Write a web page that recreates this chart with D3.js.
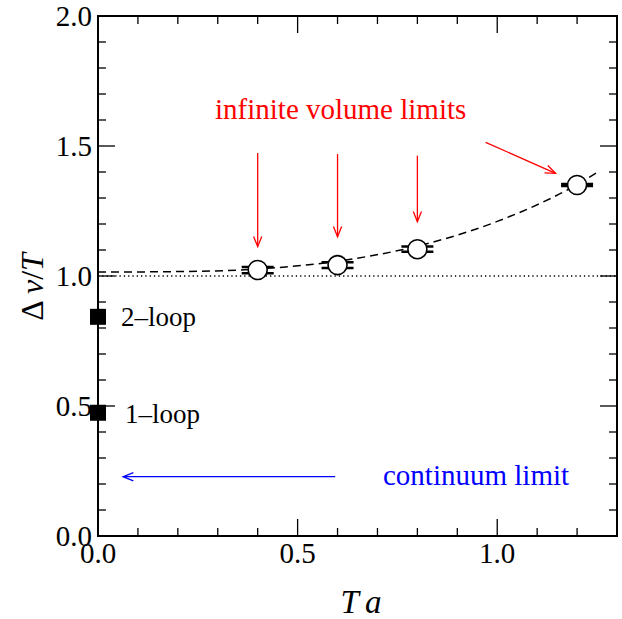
<!DOCTYPE html>
<html>
<head>
<meta charset="utf-8">
<script src="https://cdn.jsdelivr.net/npm/d3@7"></script>
<style>
html,body{margin:0;padding:0;background:#fff;}
svg{display:block;}
text{font-family:"Liberation Serif","Times New Roman",serif;}
</style>
</head>
<body>
<svg id="chart" width="622" height="619"></svg>
<script>
// ---- data ----
const pointX = [0.4, 0.6, 0.8, 1.2];
const pointY = [1.023, 1.042, 1.103, 1.350];
const pointErr = [0.012, 0.011, 0.010, 0.004];

const fitX = [0.0, 0.2, 0.4, 0.6, 0.8, 1.0, 1.2, 1.25];
const fitY = [1.015, 1.017, 1.027, 1.057, 1.115, 1.21, 1.352, 1.398];

const loopLabels = ["2\u2013loop", "1\u2013loop"];
const loopX = [0.0, 0.0];
const loopY = [0.843, 0.474];

const xTicks = [0.0, 0.5, 1.0];
const yTicks = [0.0, 0.5, 1.0, 1.5, 2.0];
const xTickLabels = ["0.0", "0.5", "1.0"];
const yTickLabels = ["0.0", "0.5", "1.0", "1.5", "2.0"];

// annotation arrows (data units): [x1, y1, x2, y2]
const redArrows = [
  [0.4, 1.473, 0.4, 1.113],
  [0.6, 1.469, 0.6, 1.151],
  [0.8, 1.463, 0.8, 1.209],
  [0.971, 1.514, 1.146, 1.395]
];
const blueArrows = [[0.594, 0.228, 0.063, 0.228]];

(function () {
// ---- layout ----
const svg = d3.select("#chart");
const pL = 98, pR = 617, pT = 16, pB = 536;
const x = d3.scaleLinear().domain([0, 1.3]).range([pL, pR]);
const y = d3.scaleLinear().domain([0, 2.0]).range([pB, pT]);

// reference lines / curves
svg.append("line")
  .attr("x1", x(0)).attr("x2", x(1.3)).attr("y1", y(1)).attr("y2", y(1))
  .attr("stroke", "#000").attr("stroke-width", 1.3).attr("stroke-dasharray", "1.3,3");

const fitData = fitX.map((v, i) => [v, fitY[i]]);
svg.append("path")
  .datum(fitData)
  .attr("d", d3.line().x(d => x(d[0])).y(d => y(d[1])).curve(d3.curveMonotoneX))
  .attr("fill", "none").attr("stroke", "#000").attr("stroke-width", 1.5)
  .attr("stroke-dasharray", "8,5");

// axes (inward ticks on all sides)
const g = svg.append("g");
const xMinor = d3.range(0, 1.3001, 0.1);
const yMinor = d3.range(0, 2.0001, 0.1);
const major = 17, minor = 8;
function isMajor(v) { return Math.abs(v * 2 - Math.round(v * 2)) < 1e-6; }
xMinor.forEach(v => {
  const L = isMajor(v) ? major : minor;
  g.append("line").attr("x1", x(v)).attr("x2", x(v)).attr("y1", pB).attr("y2", pB - L)
    .attr("stroke", "#000").attr("stroke-width", 1.3);
  g.append("line").attr("x1", x(v)).attr("x2", x(v)).attr("y1", pT).attr("y2", pT + L)
    .attr("stroke", "#000").attr("stroke-width", 1.3);
});
yMinor.forEach(v => {
  const L = isMajor(v) ? major : minor;
  g.append("line").attr("x1", pL).attr("x2", pL + L).attr("y1", y(v)).attr("y2", y(v))
    .attr("stroke", "#000").attr("stroke-width", 1.3);
  g.append("line").attr("x1", pR).attr("x2", pR - L).attr("y1", y(v)).attr("y2", y(v))
    .attr("stroke", "#000").attr("stroke-width", 1.3);
});
g.append("rect").attr("x", pL).attr("y", pT).attr("width", pR - pL).attr("height", pB - pT)
  .attr("fill", "none").attr("stroke", "#000").attr("stroke-width", 2);

// tick labels
xTicks.forEach((v, i) => {
  svg.append("text").attr("x", x(v)).attr("y", 563).attr("text-anchor", "middle")
    .attr("font-size", 29).text(xTickLabels[i]);
});
yTicks.forEach((v, i) => {
  svg.append("text").attr("x", 92).attr("y", y(v) + 10).attr("text-anchor", "end")
    .attr("font-size", 29).text(yTickLabels[i]);
});

// axis titles
const xt = svg.append("text").attr("x", 361).attr("y", 613).attr("text-anchor", "middle")
  .attr("font-size", 33).attr("font-style", "italic");
xt.append("tspan").text("T");
xt.append("tspan").attr("dx", 9).text("a");

const yt = svg.append("text").attr("transform", "translate(43,287) rotate(-90)")
  .attr("text-anchor", "middle").attr("font-size", 32);
yt.append("tspan").text("\u0394 ");
yt.append("tspan").attr("font-style", "italic").text("v");
yt.append("tspan").text("/");
yt.append("tspan").attr("font-style", "italic").text("T");

// error bars + circles
pointX.forEach((v, i) => {
  const cx = x(v), cy = y(pointY[i]);
  const y1 = y(pointY[i] + pointErr[i]), y2 = y(pointY[i] - pointErr[i]);
  svg.append("line").attr("x1", cx).attr("x2", cx).attr("y1", y1).attr("y2", y2)
    .attr("stroke", "#000").attr("stroke-width", 2);
  [y1, y2].forEach(yy => {
    svg.append("line").attr("x1", cx - 16).attr("x2", cx + 16).attr("y1", yy).attr("y2", yy)
      .attr("stroke", "#000").attr("stroke-width", 2.5);
  });
  svg.append("circle").attr("cx", cx).attr("cy", cy).attr("r", 9.5)
    .attr("fill", "#fff").attr("stroke", "#000").attr("stroke-width", 1.6);
});

// perturbative squares
loopX.forEach((v, i) => {
  svg.append("rect").attr("x", x(v) - 8).attr("y", y(loopY[i]) - 8)
    .attr("width", 16).attr("height", 16).attr("fill", "#000");
});
svg.append("text").attr("x", 121).attr("y", 326).attr("font-size", 27).text(loopLabels[0]);
svg.append("text").attr("x", 125).attr("y", 423).attr("font-size", 27).text(loopLabels[1]);

// arrows
function arrow(a, color, w) {
  const [x1, y1, x2, y2] = [x(a[0]), y(a[1]), x(a[2]), y(a[3])];
  const ang = Math.atan2(y2 - y1, x2 - x1);
  const L = 11, h = 0.38;
  svg.append("line").attr("x1", x1).attr("y1", y1).attr("x2", x2).attr("y2", y2)
    .attr("stroke", color).attr("stroke-width", w);
  const p = [
    [x2 - L * Math.cos(ang - h), y2 - L * Math.sin(ang - h)],
    [x2, y2],
    [x2 - L * Math.cos(ang + h), y2 - L * Math.sin(ang + h)]
  ];
  svg.append("path").attr("d", d3.line()(p)).attr("fill", "none")
    .attr("stroke", color).attr("stroke-width", w);
}
redArrows.forEach(a => arrow(a, "#ff0000", 1.3));
blueArrows.forEach(a => arrow(a, "#0000ff", 1.3));

svg.append("text").attr("x", 215).attr("y", 119).attr("font-size", 29)
  .attr("fill", "#ff0000").text("infinite volume limits");
svg.append("text").attr("x", 383).attr("y", 485).attr("font-size", 29)
  .attr("fill", "#0000ff").text("continuum limit");
})();
</script>
</body>
</html>
